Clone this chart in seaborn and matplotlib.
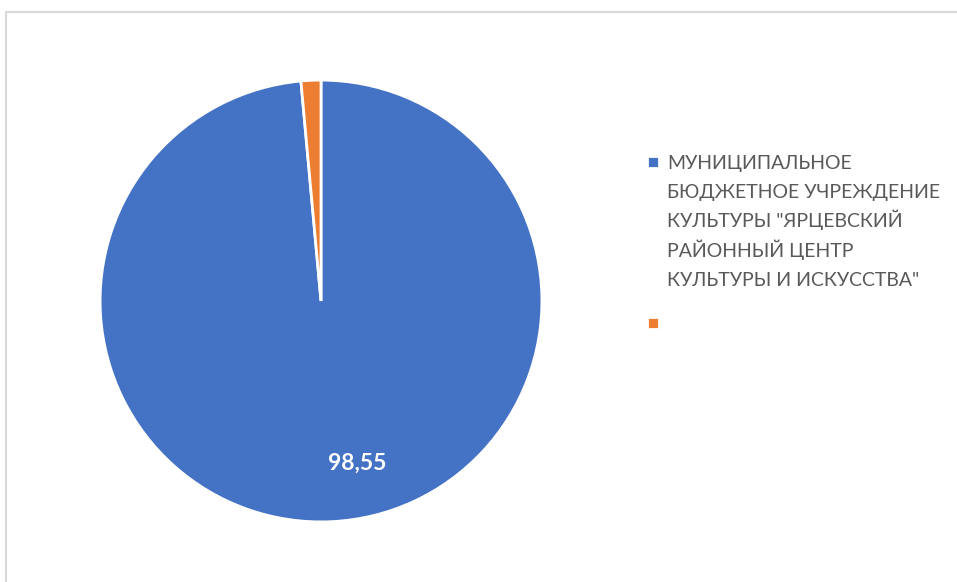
import matplotlib
matplotlib.use("Agg")
import matplotlib.pyplot as plt
import seaborn as sns

sns.set_theme(style="white")
plt.rcParams['font.family'] = ['Lato', 'DejaVu Sans']

# данные
label_lines = ['МУНИЦИПАЛЬНОЕ', 'БЮДЖЕТНОЕ УЧРЕЖДЕНИЕ', 'КУЛЬТУРЫ "ЯРЦЕВСКИЙ',
               'РАЙОННЫЙ ЦЕНТР', 'КУЛЬТУРЫ И ИСКУССТВА"']
values = [98.55, 1.45]
value_labels = ['98,55', '']
colors = ['#4472C4', '#ED7D31']

W, H = 957, 582
fig = plt.figure(figsize=(W / 100, H / 100), dpi=100)

# рамка области диаграммы
fig.add_artist(plt.Line2D([6 / W, 6 / W], [0, 1 - 12 / H], color='#D9D9D9', lw=1.5))
fig.add_artist(plt.Line2D([6 / W, 1], [1 - 12 / H, 1 - 12 / H], color='#D9D9D9', lw=1.5))

ax = fig.add_axes([78 / W, 38 / H, 486 / W, 486 / H])
wedges, texts = ax.pie(values, colors=colors, startangle=90, counterclock=False,
                       wedgeprops=dict(edgecolor='white', linewidth=2))
ax.set_xlim(-1.1, 1.1)
ax.set_ylim(-1.1, 1.1)
ax.set_aspect('equal')
ax.axis('off')

# подпись значения
ax.text(0.163, -0.733, value_labels[0], color='white', fontsize=16.5, fontweight='bold',
        ha='center', va='center')

# маркеры легенды
leg_kw = dict(loc='upper left', bbox_transform=fig.transFigure, frameon=False, fontsize=14,
              handlelength=0.6, handleheight=0.6, handletextpad=0.55,
              borderpad=0, borderaxespad=0)
leg1 = ax.legend([wedges[0]], [''], bbox_to_anchor=(647 / W, 1 - 155 / H), **leg_kw)
ax.add_artist(leg1)
ax.legend([wedges[1]], [''], bbox_to_anchor=(647 / W, 1 - 316 / H), **leg_kw)

# текст легенды (строки с равным шагом)
for i, line in enumerate(label_lines):
    fig.text(667 / W, 1 - (169 + i * 29.2) / H, line, fontsize=14, color='#595959',
             ha='left', va='baseline')

fig.savefig('out.png', dpi=100)
